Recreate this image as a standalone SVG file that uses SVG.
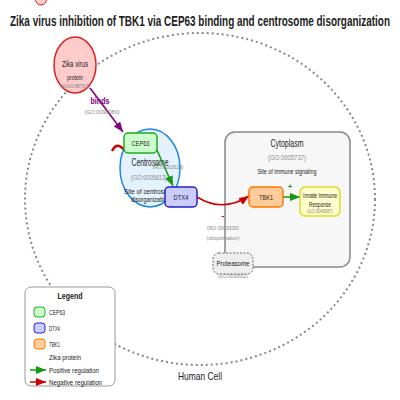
<svg xmlns="http://www.w3.org/2000/svg" width="400" height="400" viewBox="0 0 400 400">
<style>
text{font-family:"Liberation Sans",Arial,sans-serif;text-anchor:middle;fill:#222}
.g{fill:#888}
.l{text-anchor:start}
.node{stroke-width:1.5}
</style>
<defs>
<marker id="ap" viewBox="0 0 10 8" refX="10" refY="4" markerWidth="10" markerHeight="8" markerUnits="userSpaceOnUse" orient="auto"><path d="M0,0 L10,4 L0,8 z" fill="#800080"/></marker>
<marker id="ag" viewBox="0 0 10 8" refX="10" refY="4" markerWidth="10" markerHeight="8" markerUnits="userSpaceOnUse" orient="auto"><path d="M0,0 L10,4 L0,8 z" fill="#119911"/></marker>
<marker id="ar" viewBox="0 0 10 8" refX="10" refY="4" markerWidth="10" markerHeight="8" markerUnits="userSpaceOnUse" orient="auto"><path d="M0,0 L10,4 L0,8 z" fill="#cc0000"/></marker>
</defs>
<rect width="400" height="400" fill="#fff"/>
<ellipse cx="41" cy="-2" rx="6" ry="7" fill="#ffcccc" stroke="#dd2222" stroke-width="1"/>
<text x="200" y="26" font-size="15" font-weight="bold" textLength="380" lengthAdjust="spacingAndGlyphs">Zika virus inhibition of TBK1 via CEP63 binding and centrosome disorganization</text>

<g id="human-cell">
<ellipse cx="200" cy="199" rx="175" ry="166" fill="none" stroke="#888" stroke-width="2" stroke-dasharray="2,3"/>
<text x="200" y="380" font-size="11" textLength="44" lengthAdjust="spacingAndGlyphs">Human Cell</text>
</g>

<g id="cytoplasm">
<rect x="225" y="132" width="125" height="135" rx="10" fill="#f7f7f7" stroke="#888" stroke-width="1.5"/>
<text x="287" y="147" font-size="10" textLength="33" lengthAdjust="spacingAndGlyphs">Cytoplasm</text>
<text class="g" x="287" y="160" font-size="8" textLength="38" lengthAdjust="spacingAndGlyphs">(GO:0005737)</text>
<text x="287" y="174" font-size="7" textLength="59" lengthAdjust="spacingAndGlyphs">Site of immune signaling</text>
</g>

<g id="centrosome">
<ellipse cx="150" cy="168" rx="30" ry="39" fill="#e3f2fd" stroke="#1e88e5" stroke-width="1.5"/>
<text x="150" y="166" font-size="10" textLength="37" lengthAdjust="spacingAndGlyphs">Centrosome</text>
<text class="g" x="149" y="180" font-size="8" textLength="36" lengthAdjust="spacingAndGlyphs">(GO:0005813)</text>
<text x="150" y="194" font-size="6.5" textLength="52" lengthAdjust="spacingAndGlyphs">Site of centrosome</text>
<text x="150" y="202" font-size="6.5" textLength="38" lengthAdjust="spacingAndGlyphs">disorganization</text>
</g>

<g id="zika-virus">
<ellipse cx="75" cy="65" rx="21" ry="28" fill="#ffcccc" stroke="#dd2222" stroke-width="1.5"/>
<text x="75" y="67" font-size="8.5" textLength="26" lengthAdjust="spacingAndGlyphs">Zika virus</text>
<text x="75" y="80" font-size="6.5" textLength="16" lengthAdjust="spacingAndGlyphs">protein</text>
<text class="g" x="75" y="88" font-size="5.5" textLength="30" lengthAdjust="spacingAndGlyphs">(A0A024B7W1)</text>
</g>

<g id="connectors" fill="none">
<line x1="90" y1="88" x2="123" y2="132" stroke="#800080" stroke-width="1.5" marker-end="url(#ap)"/>
<text x="100" y="104" font-size="9" font-weight="bold" style="fill:#800080" textLength="19" lengthAdjust="spacingAndGlyphs">binds</text>
<text class="g" x="102" y="114" font-size="6" textLength="35" lengthAdjust="spacingAndGlyphs">(GO:0090080)</text>
<path d="M112,151 Q116,143 121,147 T128,152" stroke="#cc0000" stroke-width="2.5"/>
<line x1="156" y1="148" x2="173" y2="186" stroke="#119911" stroke-width="1.5" marker-end="url(#ag)"/>
<text x="157" y="167" font-size="7" font-weight="bold" style="fill:#119911">+</text>
<text class="g" x="168" y="169" font-size="5.5" textLength="31" lengthAdjust="spacingAndGlyphs">(RO:0002629)</text>
<path d="M197,197 Q223,213 249,196" stroke="#cc0000" stroke-width="1.5" marker-end="url(#ar)"/>
<text x="223" y="219" font-size="9" font-weight="bold" style="fill:#dd0000">-</text>
<text class="g" x="223" y="230" font-size="6" textLength="32" lengthAdjust="spacingAndGlyphs">(RO:0002630)</text>
<text class="g" x="223" y="240" font-size="6" textLength="33" lengthAdjust="spacingAndGlyphs">(ubiquitination)</text>
<line x1="283" y1="197" x2="300" y2="197" stroke="#119911" stroke-width="1.5" marker-end="url(#ag)"/>
<text x="290" y="189" font-size="7" font-weight="bold" style="fill:#119911">+</text>
</g>

<g id="cep63">
<rect class="node" x="124" y="133" width="33" height="20" rx="4" fill="#ccffcc" stroke="#22aa22"/>
<text x="140.5" y="146" font-size="8" textLength="18" lengthAdjust="spacingAndGlyphs">CEP63</text>
</g>

<g id="dtx4">
<rect class="node" x="165" y="187" width="32" height="20" rx="4" fill="#ccccff" stroke="#2222cc"/>
<text x="181" y="200" font-size="8" textLength="15" lengthAdjust="spacingAndGlyphs">DTX4</text>
</g>

<g id="tbk1">
<rect class="node" x="249" y="187" width="34" height="20" rx="4" fill="#ffcc99" stroke="#ff7700"/>
<text x="266" y="200" font-size="8" textLength="14" lengthAdjust="spacingAndGlyphs">TBK1</text>
</g>

<g id="innate-immune-response">
<rect class="node" x="300" y="187" width="40" height="29" rx="5" fill="#ffffcc" stroke="#dddd22"/>
<text x="320" y="198" font-size="6.5" textLength="34" lengthAdjust="spacingAndGlyphs">Innate Immune</text>
<text x="320" y="207" font-size="6.5" textLength="22" lengthAdjust="spacingAndGlyphs">Response</text>
<text class="g" x="320" y="213" font-size="4.5" textLength="26" lengthAdjust="spacingAndGlyphs">(GO:0045087)</text>
</g>

<g id="proteasome">
<text class="g" x="233" y="278" font-size="6" textLength="30" lengthAdjust="spacingAndGlyphs">(GO:0000502)</text>
<rect x="213" y="253" width="40" height="21" rx="6" fill="#eeeeee" stroke="#666" stroke-width="1" stroke-dasharray="2,1.5"/>
<text x="233" y="266" font-size="7.5" textLength="33" lengthAdjust="spacingAndGlyphs">Proteasome</text>
</g>

<g id="legend">
<rect x="25" y="287" width="90" height="99" rx="6" fill="#fff" stroke="#999" stroke-width="1"/>
<text x="70" y="299" font-size="9" font-weight="bold" textLength="25" lengthAdjust="spacingAndGlyphs">Legend</text>
<rect x="34" y="307" width="11" height="10" rx="3" fill="#ccffcc" stroke="#22aa22"/>
<text class="l" x="49" y="315" font-size="7" textLength="16" lengthAdjust="spacingAndGlyphs">CEP63</text>
<rect x="34" y="323" width="11" height="10" rx="3" fill="#ccccff" stroke="#2222cc"/>
<text class="l" x="49" y="331" font-size="7" textLength="11" lengthAdjust="spacingAndGlyphs">DTX4</text>
<rect x="34" y="339" width="11" height="10" rx="3" fill="#ffcc99" stroke="#ff7700"/>
<text class="l" x="49" y="347" font-size="7" textLength="11" lengthAdjust="spacingAndGlyphs">TBK1</text>
<text class="l" x="49" y="360" font-size="7" textLength="32" lengthAdjust="spacingAndGlyphs">Zika protein</text>
<line x1="30" y1="370" x2="46" y2="370" stroke="#119911" stroke-width="1.5" marker-end="url(#ag)"/>
<text class="l" x="49" y="373" font-size="7" textLength="50" lengthAdjust="spacingAndGlyphs">Positive regulation</text>
<line x1="30" y1="382" x2="46" y2="382" stroke="#cc0000" stroke-width="1.5" marker-end="url(#ar)"/>
<text class="l" x="49" y="385" font-size="7" textLength="53" lengthAdjust="spacingAndGlyphs">Negative regulation</text>
</g>
</svg>
